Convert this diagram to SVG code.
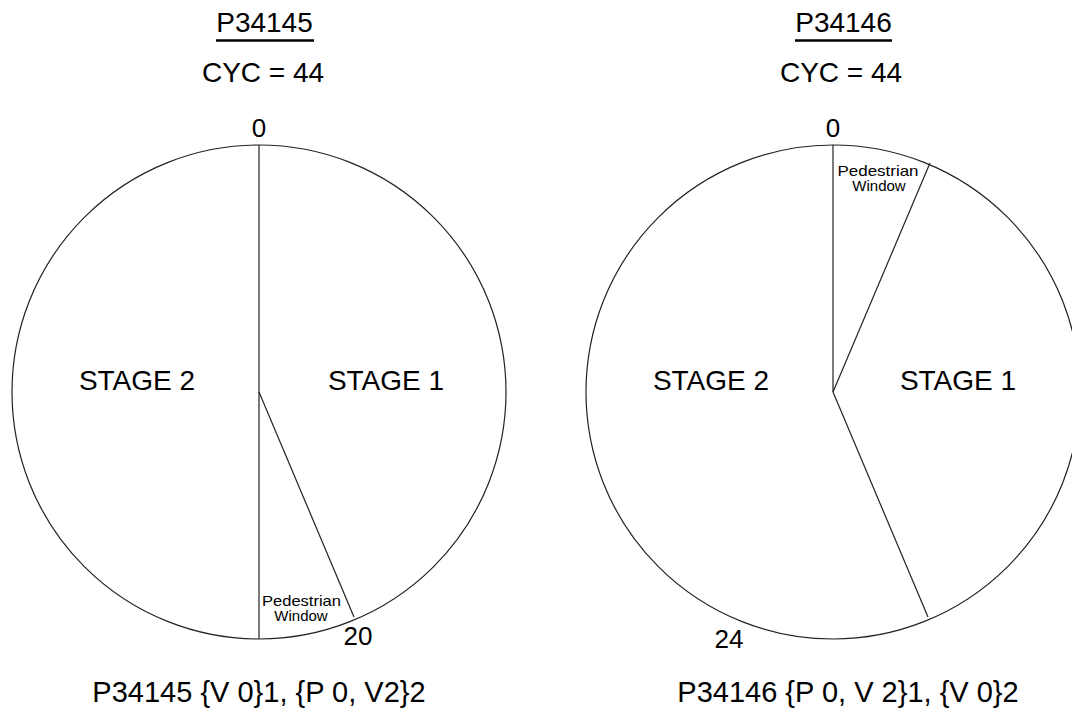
<svg xmlns="http://www.w3.org/2000/svg" width="1072" height="710" viewBox="0 0 1072 710">
  <style>
    .bg { fill: #ffffff; }
    .ring { fill: none; stroke: #222222; stroke-width: 1.2; }
    .split { stroke: #222222; stroke-width: 1.2; fill: none; }
    .big { font-family: "Liberation Sans", Arial, sans-serif; font-size: 28px; fill: #000000; text-anchor: middle; }
    .foot { font-family: "Liberation Sans", Arial, sans-serif; font-size: 29px; fill: #000000; text-anchor: middle; }
    .tick { font-family: "Liberation Sans", Arial, sans-serif; font-size: 26px; fill: #000000; text-anchor: middle; }
    .ped { font-family: "Liberation Sans", Arial, sans-serif; font-size: 15px; fill: #000000; text-anchor: middle; }
    .rule { stroke: #000000; stroke-width: 2.5; }
  </style>
  <rect class="bg" x="0" y="0" width="1072" height="710"/>

  <!-- Junction P34145: 44 s cycle -->
  <g id="p34145">
    <text class="big" x="264.5" y="32">P34145</text>
    <line class="rule" x1="216" y1="40.5" x2="314" y2="40.5"/>
    <text class="big" x="263" y="82">CYC = 44</text>
    <text class="tick" x="259" y="137">0</text>
    <circle class="ring" cx="259" cy="392" r="247"/>
    <text class="big" x="137" y="390">STAGE 2</text>
    <text class="big" x="386" y="390">STAGE 1</text>
    <text class="ped" x="301.5" y="606" textLength="79" lengthAdjust="spacingAndGlyphs">Pedestrian</text>
    <text class="ped" x="301" y="621">Window</text>
    <text class="tick" x="358" y="645">20</text>
    <text class="foot" x="259" y="702">P34145 {V 0}1, {P 0, V2}2</text>
  </g>

  <!-- Junction P34146: 44 s cycle -->
  <g id="p34146">
    <text class="big" x="843.5" y="32">P34146</text>
    <line class="rule" x1="795" y1="40.5" x2="892" y2="40.5"/>
    <text class="big" x="841" y="82">CYC = 44</text>
    <text class="tick" x="833" y="137">0</text>
    <circle class="ring" cx="833" cy="392" r="247"/>
    <text class="big" x="711" y="390">STAGE 2</text>
    <text class="big" x="958" y="390">STAGE 1</text>
    <text class="ped" x="878" y="176" textLength="81" lengthAdjust="spacingAndGlyphs">Pedestrian</text>
    <text class="ped" x="879" y="191">Window</text>
    <text class="tick" x="729" y="648">24</text>
    <text class="foot" x="848" y="702">P34146 {P 0, V 2}1, {V 0}2</text>
  </g>

  <!-- Stage boundaries (radii) -->
  <g id="connectors">
    <line class="split" x1="259" y1="145" x2="259" y2="639"/>
    <line class="split" x1="259" y1="392" x2="354" y2="617"/>
    <line class="split" x1="833" y1="145" x2="833" y2="392"/>
    <line class="split" x1="833" y1="392" x2="930" y2="163"/>
    <line class="split" x1="833" y1="392" x2="928" y2="617"/>
  </g>
</svg>
